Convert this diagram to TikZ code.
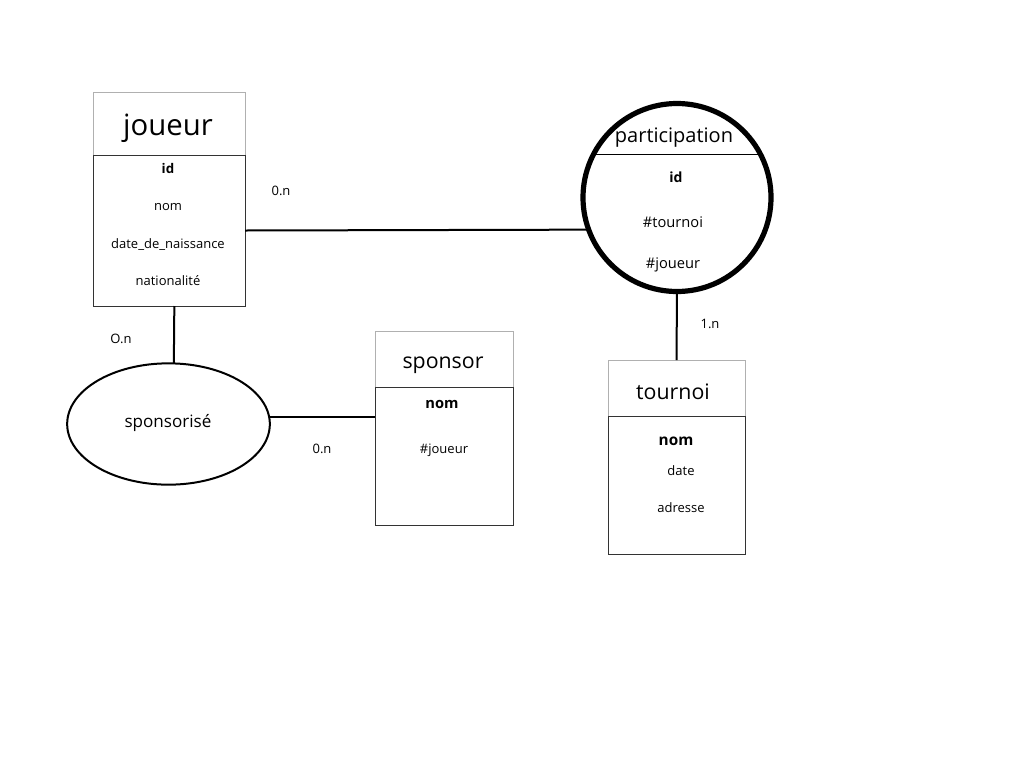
\documentclass[tikz,border=0pt]{standalone}
\usepackage{fontspec}
\setmainfont{Open Sans}
\usetikzlibrary{fit,shapes.geometric,calc}
\definecolor{hdrgray}{HTML}{B0B0B0}
\definecolor{bodygray}{HTML}{333333}
\tikzset{
  hdr/.style={draw=hdrgray, line width=0.75pt, inner sep=0pt, outer sep=0pt},
  bodybox/.style={draw=bodygray, line width=0.75pt, inner sep=0pt, outer sep=0pt},
  link/.style={draw=black, line width=1.5pt},
  txt/.style={anchor=base, inner sep=0pt},
  fs/.style={font=\fontsize{#1}{#1}\selectfont},
}
\begin{document}
\begin{tikzpicture}[x=0.75pt,y=-0.75pt]
\useasboundingbox (0,0) rectangle (1024,768);
% joueur
\node[hdr, fit={(93,92)(245,155)}] (jh) {};
\node[bodybox, fit={(93,155)(245,306)}] (jb) {};
\node[txt, fs=22pt] (jt) at (168,135) {joueur};
\node[txt, fs=10pt] (j1) at (168,173) {\textbf{id}};
\node[txt, fs=9.75pt] (j2) at (168,210) {nom};
\node[txt, fs=9.75pt] (j3) at (168,248) {date\_de\_naissance};
\node[txt, fs=9.75pt] (j4) at (168,285) {nationalité};
% participation
\node[circle, draw=black, line width=3.9pt, minimum size=141pt, inner sep=0pt, outer sep=0pt] (part) at (677,197.5) {};
\draw[black, line width=1.2pt] ($(part.center)+(-84,-43)$) -- ($(part.center)+(84,-43)$);
\node[txt, fs=15pt] (pt) at (674,142) {participation};
\node[txt, fs=10.5pt] (p1) at (676,182) {\textbf{id}};
\node[txt, fs=11pt] (p2) at (673,227) {\#tournoi};
\node[txt, fs=11pt] (p3) at (673,268) {\#joueur};
% sponsorise
\node[ellipse, draw=black, line width=1.5pt, minimum width=152pt, minimum height=91pt, inner sep=0pt, outer sep=0pt] (sp) at (168.5,424) {};
\node[txt, fs=12.8pt] (spt) at (168,427) {sponsorisé};
% sponsor
\node[hdr, fit={(375,331)(513,387)}] (sh) {};
\node[bodybox, fit={(375,387)(513,525)}] (sb) {};
\node[txt, fs=16pt] (st) at (443,368) {sponsor};
\node[txt, fs=11pt] (s1) at (442,408) {\textbf{nom}};
\node[txt, fs=9.75pt] (s2) at (444,453) {\#joueur};
% tournoi
\node[hdr, fit={(608,360)(745,416)}] (th) {};
\node[bodybox, fit={(608,416)(745,554)}] (tb) {};
\node[txt, fs=16pt] (tt) at (673,399) {tournoi};
\node[txt, fs=11.5pt] (t1) at (676,445) {\textbf{nom}};
\node[txt, fs=9.75pt] (t2) at (681,475) {date};
\node[txt, fs=9.75pt] (t3) at (681,512) {adresse};
% connectors
\draw[link] (jb.east) -- (part.200);
\draw[link] ([xshift=4pt]jb.south) -- ([xshift=4pt]sp.north);
\draw[link] (sp.4.5) -- (sp.4.5 -| sb.west);
\draw[link] (part.south) -- (th.north);
% cardinalities
\node[txt, fs=9.75pt] (c1) at (281,195) {0.n};
\node[txt, fs=9.75pt] (c2) at (121,343) {O.n};
\node[txt, fs=9.75pt] (c3) at (322,453) {0.n};
\node[txt, fs=9.75pt] (c4) at (710,328) {1.n};
\end{tikzpicture}
\end{document}
